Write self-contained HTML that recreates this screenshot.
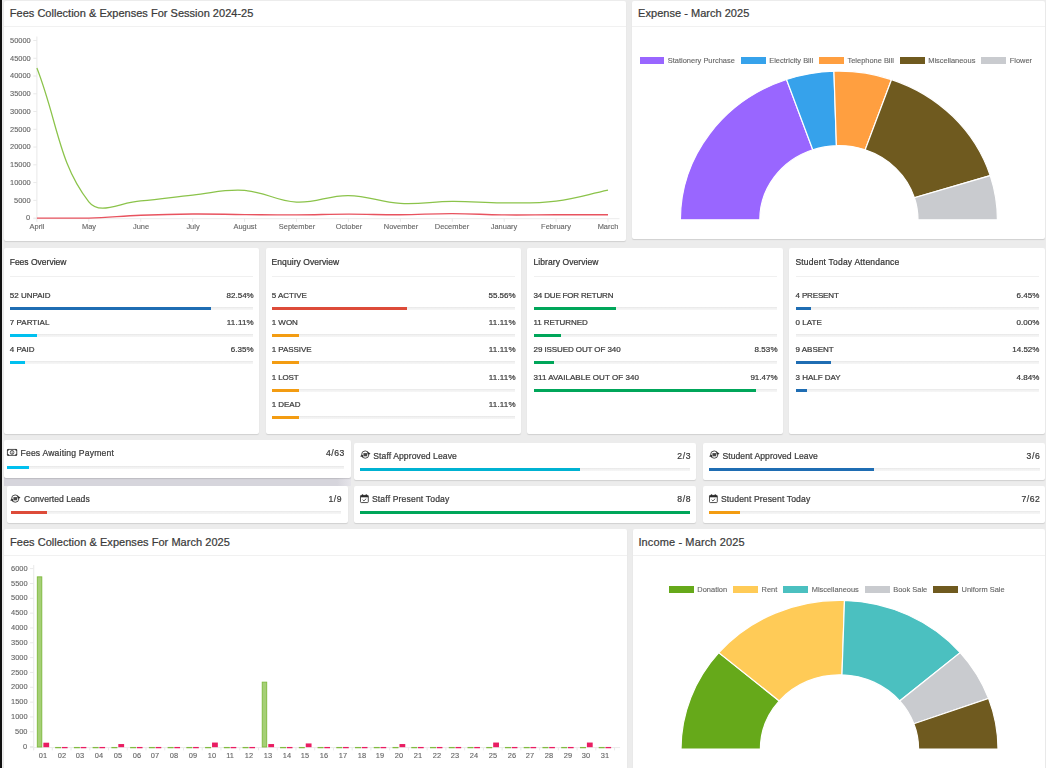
<!DOCTYPE html>
<html><head><meta charset="utf-8"><title>Dashboard</title>
<style>
html,body{margin:0;padding:0;}
body{width:1046px;height:768px;overflow:hidden;background:#ececec;font-family:"Liberation Sans",sans-serif;position:relative;}
.card{position:absolute;background:#fff;border-radius:2px;box-shadow:0 1px 1px rgba(0,0,0,0.12);}
.t{position:absolute;white-space:nowrap;-webkit-text-stroke:0.22px currentColor;}
.g{will-change:transform;-webkit-text-stroke:0.12px currentColor;}
.hl{position:absolute;height:1px;background:#f1f1f1;}
.trk{position:absolute;height:3px;background:linear-gradient(#e7e7e7 0,#f2f2f2 50%,#f6f6f6 100%);}
.bar{position:absolute;height:3px;}
svg{position:absolute;left:0;top:0;overflow:visible;}
.lg{-webkit-text-stroke:0.12px currentColor;will-change:transform;position:absolute;display:flex;justify-content:center;font-size:7.45px;line-height:9px;color:#666;white-space:nowrap;}
.lg span{display:inline-block;}
.lg .b{width:24.8px;height:7.2px;margin-right:3.5px;margin-top:1.2px;}
.lg .x{margin-right:6.13px;}
#wrap{position:absolute;left:-8px;top:-8px;width:1062px;height:784px;background:#ececec;filter:blur(0.4px);}
#in{position:absolute;left:8px;top:8px;width:1046px;height:768px;}
</style></head><body><div id="wrap"><div id="in">

<div style="position:absolute;left:0;top:0;width:2.3px;height:768px;background:#111;"></div>
<div class="card" style="left:3.6px;top:1.0px;width:622.5px;height:240.0px;"></div>
<div class="card" style="left:632.2px;top:1.0px;width:413.1px;height:238.2px;"></div>
<div class="hl" style="left:3.6px;top:25.8px;width:622.5px;"></div>
<div class="hl" style="left:632.2px;top:25.8px;width:413.1px;"></div>
<div class="t" style="top:7px;font-size:11.00px;line-height:12px;color:#3a3a3a;letter-spacing:0.018px;left:9.80px;">Fees Collection &amp; Expenses For Session 2024-25</div>
<div class="t" style="top:7px;font-size:11.00px;line-height:12px;color:#3a3a3a;letter-spacing:0.026px;left:638.10px;">Expense - March 2025</div>
<div class="card" style="left:3.6px;top:529.3px;width:623.3px;height:243.7px;"></div>
<div class="card" style="left:632.9px;top:529.3px;width:412.4px;height:243.7px;"></div>
<div class="hl" style="left:3.6px;top:554.5px;width:623.3px;"></div>
<div class="hl" style="left:632.9px;top:554.5px;width:412.4px;"></div>
<div class="t" style="top:536px;font-size:11.00px;line-height:12px;color:#3a3a3a;letter-spacing:0.039px;left:10.00px;">Fees Collection &amp; Expenses For March 2025</div>
<div class="t" style="top:536px;font-size:11.00px;line-height:12px;color:#3a3a3a;letter-spacing:0.124px;left:638.40px;">Income - March 2025</div>
<svg width="1046" height="768" viewBox="0 0 1046 768">
<path d="M36.90 36.5 V218.90" stroke="#e9e9e9" stroke-width="1" fill="none"/>
<path d="M33.40 218.70 H619.52" stroke="#ececec" stroke-width="1" fill="none"/>
<path d="M33.30 218.10 h3.6 M33.30 200.34 h3.6 M33.30 182.58 h3.6 M33.30 164.82 h3.6 M33.30 147.06 h3.6 M33.30 129.30 h3.6 M33.30 111.54 h3.6 M33.30 93.78 h3.6 M33.30 76.02 h3.6 M33.30 58.26 h3.6 M33.30 40.50 h3.6 M36.90 218.70 v3.2 M88.82 218.70 v3.2 M140.74 218.70 v3.2 M192.66 218.70 v3.2 M244.58 218.70 v3.2 M296.50 218.70 v3.2 M348.42 218.70 v3.2 M400.34 218.70 v3.2 M452.26 218.70 v3.2 M504.18 218.70 v3.2 M556.10 218.70 v3.2 M608.02 218.70 v3.2" stroke="#e9e9e9" stroke-width="1" fill="none"/>
<path d="M36.90 68.03 C57.67 121.52 58.32 162.75 88.82 201.76 C99.86 215.88 120.04 202.22 140.74 200.87 C161.57 199.52 171.87 197.11 192.66 195.01 C213.40 192.92 224.03 188.99 244.58 190.39 C265.57 191.83 275.56 201.08 296.50 202.12 C317.09 203.14 327.69 195.28 348.42 195.54 C369.22 195.82 379.46 202.29 400.34 203.47 C421.00 204.63 431.49 201.53 452.26 201.41 C473.02 201.28 483.41 202.93 504.18 202.86 C524.95 202.79 535.55 203.59 556.10 201.05 C577.09 198.46 587.25 194.44 608.02 190.04" stroke="#8bc34a" stroke-width="1.25" fill="none" stroke-linecap="butt"/>
<path d="M36.90 218.10 C57.67 218.10 68.07 218.10 88.82 218.10 C109.60 217.53 119.96 216.08 140.74 215.26 C161.50 214.44 171.89 214.16 192.66 214.02 C213.43 213.87 223.81 214.37 244.58 214.55 C265.35 214.73 275.73 214.97 296.50 214.90 C317.27 214.83 327.65 214.23 348.42 214.19 C369.19 214.16 379.57 214.83 400.34 214.73 C421.11 214.62 431.49 213.62 452.26 213.66 C473.03 213.70 483.41 214.69 504.18 214.90 C524.95 215.12 535.33 214.76 556.10 214.73 C576.87 214.69 587.25 214.73 608.02 214.73" stroke="#e8535f" stroke-width="1.35" fill="none"/>
</svg>
<div class="t g" style="top:213px;font-size:7.45px;line-height:9px;color:#666;right:1015.50px;text-align:right;">0</div>
<div class="t g" style="top:196px;font-size:7.45px;line-height:9px;color:#666;right:1015.50px;text-align:right;">5000</div>
<div class="t g" style="top:178px;font-size:7.45px;line-height:9px;color:#666;right:1015.50px;text-align:right;">10000</div>
<div class="t g" style="top:160px;font-size:7.45px;line-height:9px;color:#666;right:1015.50px;text-align:right;">15000</div>
<div class="t g" style="top:142px;font-size:7.45px;line-height:9px;color:#666;right:1015.50px;text-align:right;">20000</div>
<div class="t g" style="top:125px;font-size:7.45px;line-height:9px;color:#666;right:1015.50px;text-align:right;">25000</div>
<div class="t g" style="top:107px;font-size:7.45px;line-height:9px;color:#666;right:1015.50px;text-align:right;">30000</div>
<div class="t g" style="top:89px;font-size:7.45px;line-height:9px;color:#666;right:1015.50px;text-align:right;">35000</div>
<div class="t g" style="top:71px;font-size:7.45px;line-height:9px;color:#666;right:1015.50px;text-align:right;">40000</div>
<div class="t g" style="top:54px;font-size:7.45px;line-height:9px;color:#666;right:1015.50px;text-align:right;">45000</div>
<div class="t g" style="top:36px;font-size:7.45px;line-height:9px;color:#666;right:1015.50px;text-align:right;">50000</div>
<div class="t g" style="top:222px;font-size:7.45px;line-height:9px;color:#666;left:37.10px;width:200px;margin-left:-100px;text-align:center;">April</div>
<div class="t g" style="top:222px;font-size:7.45px;line-height:9px;color:#666;left:89.02px;width:200px;margin-left:-100px;text-align:center;">May</div>
<div class="t g" style="top:222px;font-size:7.45px;line-height:9px;color:#666;left:140.94px;width:200px;margin-left:-100px;text-align:center;">June</div>
<div class="t g" style="top:222px;font-size:7.45px;line-height:9px;color:#666;left:192.86px;width:200px;margin-left:-100px;text-align:center;">July</div>
<div class="t g" style="top:222px;font-size:7.45px;line-height:9px;color:#666;left:244.78px;width:200px;margin-left:-100px;text-align:center;">August</div>
<div class="t g" style="top:222px;font-size:7.45px;line-height:9px;color:#666;left:296.70px;width:200px;margin-left:-100px;text-align:center;">September</div>
<div class="t g" style="top:222px;font-size:7.45px;line-height:9px;color:#666;left:348.62px;width:200px;margin-left:-100px;text-align:center;">October</div>
<div class="t g" style="top:222px;font-size:7.45px;line-height:9px;color:#666;left:400.54px;width:200px;margin-left:-100px;text-align:center;">November</div>
<div class="t g" style="top:222px;font-size:7.45px;line-height:9px;color:#666;left:452.46px;width:200px;margin-left:-100px;text-align:center;">December</div>
<div class="t g" style="top:222px;font-size:7.45px;line-height:9px;color:#666;left:504.38px;width:200px;margin-left:-100px;text-align:center;">January</div>
<div class="t g" style="top:222px;font-size:7.45px;line-height:9px;color:#666;left:556.30px;width:200px;margin-left:-100px;text-align:center;">February</div>
<div class="t g" style="top:222px;font-size:7.45px;line-height:9px;color:#666;left:608.22px;width:200px;margin-left:-100px;text-align:center;">March</div>
<svg width="1046" height="768" viewBox="0 0 1046 768">
<path d="M680.40 219.80 A158.50 148.67 0 0 1 786.51 79.48 L812.76 149.77 A79.10 74.20 0 0 0 759.80 219.80 Z" fill="#9966ff" stroke="#fff" stroke-width="1.2" stroke-linejoin="miter"/>
<path d="M786.51 79.48 A158.50 148.67 0 0 1 833.92 71.20 L836.42 145.64 A79.10 74.20 0 0 0 812.76 149.77 Z" fill="#36a2eb" stroke="#fff" stroke-width="1.2" stroke-linejoin="miter"/>
<path d="M833.92 71.20 A158.50 148.67 0 0 1 891.55 79.57 L865.17 149.82 A79.10 74.20 0 0 0 836.42 145.64 Z" fill="#ff9f40" stroke="#fff" stroke-width="1.2" stroke-linejoin="miter"/>
<path d="M891.55 79.57 A158.50 148.67 0 0 1 990.23 175.59 L914.42 197.74 A79.10 74.20 0 0 0 865.17 149.82 Z" fill="#6f5a1f" stroke="#fff" stroke-width="1.2" stroke-linejoin="miter"/>
<path d="M990.23 175.59 A158.50 148.67 0 0 1 997.40 219.80 L918.00 219.80 A79.10 74.20 0 0 0 914.42 197.74 Z" fill="#c9cbcf" stroke="#fff" stroke-width="1.2" stroke-linejoin="miter"/>
</svg>
<div style="position:absolute;left:678.4px;top:219.8px;width:321.0px;height:3px;background:#fff;"></div>
<div class="lg" style="left:637.7px;top:56.30px;width:401.8px;"><span class="b" style="background:#9966ff"></span><span class="x">Stationery Purchase</span><span class="b" style="background:#36a2eb"></span><span class="x">Electricity Bill</span><span class="b" style="background:#ff9f40"></span><span class="x">Telephone Bill</span><span class="b" style="background:#6f5a1f"></span><span class="x">Miscellaneous</span><span class="b" style="background:#c9cbcf"></span><span class="x">Flower</span></div>
<svg width="1046" height="768" viewBox="0 0 1046 768">
<path d="M681.00 749.00 A158.50 148.67 0 0 1 718.80 652.64 L779.26 700.91 A79.10 74.20 0 0 0 760.40 749.00 Z" fill="#66a91a" stroke="#fff" stroke-width="1.2" stroke-linejoin="miter"/>
<path d="M718.80 652.64 A158.50 148.67 0 0 1 844.48 600.40 L841.98 674.84 A79.10 74.20 0 0 0 779.26 700.91 Z" fill="#ffcb57" stroke="#fff" stroke-width="1.2" stroke-linejoin="miter"/>
<path d="M844.48 600.40 A158.50 148.67 0 0 1 960.20 652.64 L899.74 700.91 A79.10 74.20 0 0 0 841.98 674.84 Z" fill="#4bc0c0" stroke="#fff" stroke-width="1.2" stroke-linejoin="miter"/>
<path d="M960.20 652.64 A158.50 148.67 0 0 1 988.54 698.39 L913.88 723.75 A79.10 74.20 0 0 0 899.74 700.91 Z" fill="#c9cbcf" stroke="#fff" stroke-width="1.2" stroke-linejoin="miter"/>
<path d="M988.54 698.39 A158.50 148.67 0 0 1 998.00 749.00 L918.60 749.00 A79.10 74.20 0 0 0 913.88 723.75 Z" fill="#6f5a1f" stroke="#fff" stroke-width="1.2" stroke-linejoin="miter"/>
</svg>
<div style="position:absolute;left:679.0px;top:749.0px;width:321.0px;height:3px;background:#fff;"></div>
<div class="lg" style="left:638.5px;top:584.60px;width:401.8px;"><span class="b" style="background:#66a91a"></span><span class="x">Donation</span><span class="b" style="background:#ffcb57"></span><span class="x">Rent</span><span class="b" style="background:#4bc0c0"></span><span class="x">Miscellaneous</span><span class="b" style="background:#c9cbcf"></span><span class="x">Book Sale</span><span class="b" style="background:#6f5a1f"></span><span class="x">Uniform Sale</span></div>
<svg width="1046" height="768" viewBox="0 0 1046 768">
<path d="M33.75 565 V750.00" stroke="#e9e9e9" stroke-width="1" fill="none"/>
<path d="M30.05 747.60 H620.08" stroke="#ececec" stroke-width="1" fill="none"/>
<path d="M29.95 746.60 h3.6 M29.95 731.77 h3.6 M29.95 716.94 h3.6 M29.95 702.11 h3.6 M29.95 687.28 h3.6 M29.95 672.45 h3.6 M29.95 657.62 h3.6 M29.95 642.79 h3.6 M29.95 627.96 h3.6 M29.95 613.13 h3.6 M29.95 598.30 h3.6 M29.95 583.47 h3.6 M29.95 568.64 h3.6 M33.55 747.60 v2.8 M52.29 747.60 v2.8 M71.04 747.60 v2.8 M89.78 747.60 v2.8 M108.52 747.60 v2.8 M127.26 747.60 v2.8 M146.01 747.60 v2.8 M164.75 747.60 v2.8 M183.49 747.60 v2.8 M202.24 747.60 v2.8 M220.98 747.60 v2.8 M239.72 747.60 v2.8 M258.47 747.60 v2.8 M277.21 747.60 v2.8 M295.95 747.60 v2.8 M314.69 747.60 v2.8 M333.44 747.60 v2.8 M352.18 747.60 v2.8 M370.92 747.60 v2.8 M389.67 747.60 v2.8 M408.41 747.60 v2.8 M427.15 747.60 v2.8 M445.90 747.60 v2.8 M464.64 747.60 v2.8 M483.38 747.60 v2.8 M502.12 747.60 v2.8 M520.87 747.60 v2.8 M539.61 747.60 v2.8 M558.35 747.60 v2.8 M577.10 747.60 v2.8 M595.84 747.60 v2.8 M614.58 747.60 v2.8" stroke="#e9e9e9" stroke-width="1" fill="none"/>
<rect x="37.30" y="576.86" width="4.50" height="170.14" fill="#a5cf75" stroke="#7db93c" stroke-width="0.9"/>
<rect x="43.35" y="742.70" width="5.80" height="4.50" fill="#e91e63"/>
<rect x="55.14" y="746.95" width="6.00" height="1.3" fill="#82bb42"/>
<rect x="61.89" y="746.95" width="5.70" height="1.3" fill="#e91e63"/>
<rect x="73.89" y="746.95" width="6.00" height="1.3" fill="#82bb42"/>
<rect x="80.64" y="746.95" width="5.70" height="1.3" fill="#e91e63"/>
<rect x="92.63" y="746.95" width="6.00" height="1.3" fill="#82bb42"/>
<rect x="99.38" y="746.95" width="5.70" height="1.3" fill="#e91e63"/>
<rect x="111.37" y="746.95" width="6.00" height="1.3" fill="#82bb42"/>
<rect x="118.32" y="744.03" width="5.80" height="3.17" fill="#e91e63"/>
<rect x="130.11" y="746.95" width="6.00" height="1.3" fill="#82bb42"/>
<rect x="136.86" y="746.95" width="5.70" height="1.3" fill="#e91e63"/>
<rect x="148.86" y="746.95" width="6.00" height="1.3" fill="#82bb42"/>
<rect x="155.61" y="746.95" width="5.70" height="1.3" fill="#e91e63"/>
<rect x="167.60" y="746.95" width="6.00" height="1.3" fill="#82bb42"/>
<rect x="174.35" y="746.95" width="5.70" height="1.3" fill="#e91e63"/>
<rect x="186.34" y="746.95" width="6.00" height="1.3" fill="#82bb42"/>
<rect x="193.09" y="746.95" width="5.70" height="1.3" fill="#e91e63"/>
<rect x="205.09" y="746.95" width="6.00" height="1.3" fill="#82bb42"/>
<rect x="212.04" y="742.55" width="5.80" height="4.65" fill="#e91e63"/>
<rect x="223.83" y="746.95" width="6.00" height="1.3" fill="#82bb42"/>
<rect x="230.58" y="746.95" width="5.70" height="1.3" fill="#e91e63"/>
<rect x="242.57" y="746.95" width="6.00" height="1.3" fill="#82bb42"/>
<rect x="249.32" y="746.95" width="5.70" height="1.3" fill="#e91e63"/>
<rect x="262.22" y="682.15" width="4.50" height="64.85" fill="#a5cf75" stroke="#7db93c" stroke-width="0.9"/>
<rect x="268.27" y="744.03" width="5.80" height="3.17" fill="#e91e63"/>
<rect x="280.06" y="746.95" width="6.00" height="1.3" fill="#82bb42"/>
<rect x="286.81" y="746.95" width="5.70" height="1.3" fill="#e91e63"/>
<rect x="298.80" y="746.95" width="6.00" height="1.3" fill="#82bb42"/>
<rect x="305.75" y="743.44" width="5.80" height="3.76" fill="#e91e63"/>
<rect x="317.55" y="746.95" width="6.00" height="1.3" fill="#82bb42"/>
<rect x="324.30" y="746.95" width="5.70" height="1.3" fill="#e91e63"/>
<rect x="336.29" y="746.95" width="6.00" height="1.3" fill="#82bb42"/>
<rect x="343.04" y="746.95" width="5.70" height="1.3" fill="#e91e63"/>
<rect x="355.03" y="746.95" width="6.00" height="1.3" fill="#82bb42"/>
<rect x="361.78" y="746.95" width="5.70" height="1.3" fill="#e91e63"/>
<rect x="373.77" y="746.95" width="6.00" height="1.3" fill="#82bb42"/>
<rect x="380.52" y="746.95" width="5.70" height="1.3" fill="#e91e63"/>
<rect x="392.52" y="746.95" width="6.00" height="1.3" fill="#82bb42"/>
<rect x="399.47" y="744.03" width="5.80" height="3.17" fill="#e91e63"/>
<rect x="411.26" y="746.95" width="6.00" height="1.3" fill="#82bb42"/>
<rect x="418.01" y="746.95" width="5.70" height="1.3" fill="#e91e63"/>
<rect x="430.00" y="746.95" width="6.00" height="1.3" fill="#82bb42"/>
<rect x="436.75" y="746.95" width="5.70" height="1.3" fill="#e91e63"/>
<rect x="448.75" y="746.95" width="6.00" height="1.3" fill="#82bb42"/>
<rect x="455.50" y="746.95" width="5.70" height="1.3" fill="#e91e63"/>
<rect x="467.49" y="746.95" width="6.00" height="1.3" fill="#82bb42"/>
<rect x="474.24" y="746.95" width="5.70" height="1.3" fill="#e91e63"/>
<rect x="486.23" y="746.95" width="6.00" height="1.3" fill="#82bb42"/>
<rect x="493.18" y="742.55" width="5.80" height="4.65" fill="#e91e63"/>
<rect x="504.98" y="746.95" width="6.00" height="1.3" fill="#82bb42"/>
<rect x="511.73" y="746.95" width="5.70" height="1.3" fill="#e91e63"/>
<rect x="523.72" y="746.95" width="6.00" height="1.3" fill="#82bb42"/>
<rect x="530.47" y="746.95" width="5.70" height="1.3" fill="#e91e63"/>
<rect x="542.46" y="746.95" width="6.00" height="1.3" fill="#82bb42"/>
<rect x="549.21" y="746.95" width="5.70" height="1.3" fill="#e91e63"/>
<rect x="561.20" y="746.95" width="6.00" height="1.3" fill="#82bb42"/>
<rect x="567.95" y="746.95" width="5.70" height="1.3" fill="#e91e63"/>
<rect x="579.95" y="746.95" width="6.00" height="1.3" fill="#82bb42"/>
<rect x="586.90" y="742.55" width="5.80" height="4.65" fill="#e91e63"/>
<rect x="598.69" y="746.95" width="6.00" height="1.3" fill="#82bb42"/>
<rect x="605.44" y="746.95" width="5.70" height="1.3" fill="#e91e63"/>
</svg>
<div class="t g" style="top:742px;font-size:7.45px;line-height:9px;color:#666;right:1018.60px;text-align:right;">0</div>
<div class="t g" style="top:727px;font-size:7.45px;line-height:9px;color:#666;right:1018.60px;text-align:right;">500</div>
<div class="t g" style="top:712px;font-size:7.45px;line-height:9px;color:#666;right:1018.60px;text-align:right;">1000</div>
<div class="t g" style="top:697px;font-size:7.45px;line-height:9px;color:#666;right:1018.60px;text-align:right;">1500</div>
<div class="t g" style="top:682px;font-size:7.45px;line-height:9px;color:#666;right:1018.60px;text-align:right;">2000</div>
<div class="t g" style="top:668px;font-size:7.45px;line-height:9px;color:#666;right:1018.60px;text-align:right;">2500</div>
<div class="t g" style="top:653px;font-size:7.45px;line-height:9px;color:#666;right:1018.60px;text-align:right;">3000</div>
<div class="t g" style="top:638px;font-size:7.45px;line-height:9px;color:#666;right:1018.60px;text-align:right;">3500</div>
<div class="t g" style="top:623px;font-size:7.45px;line-height:9px;color:#666;right:1018.60px;text-align:right;">4000</div>
<div class="t g" style="top:608px;font-size:7.45px;line-height:9px;color:#666;right:1018.60px;text-align:right;">4500</div>
<div class="t g" style="top:593px;font-size:7.45px;line-height:9px;color:#666;right:1018.60px;text-align:right;">5000</div>
<div class="t g" style="top:579px;font-size:7.45px;line-height:9px;color:#666;right:1018.60px;text-align:right;">5500</div>
<div class="t g" style="top:564px;font-size:7.45px;line-height:9px;color:#666;right:1018.60px;text-align:right;">6000</div>
<div class="t g" style="top:751px;font-size:7.45px;line-height:9px;color:#666;left:42.92px;width:200px;margin-left:-100px;text-align:center;">01</div>
<div class="t g" style="top:751px;font-size:7.45px;line-height:9px;color:#666;left:61.66px;width:200px;margin-left:-100px;text-align:center;">02</div>
<div class="t g" style="top:751px;font-size:7.45px;line-height:9px;color:#666;left:80.41px;width:200px;margin-left:-100px;text-align:center;">03</div>
<div class="t g" style="top:751px;font-size:7.45px;line-height:9px;color:#666;left:99.15px;width:200px;margin-left:-100px;text-align:center;">04</div>
<div class="t g" style="top:751px;font-size:7.45px;line-height:9px;color:#666;left:117.89px;width:200px;margin-left:-100px;text-align:center;">05</div>
<div class="t g" style="top:751px;font-size:7.45px;line-height:9px;color:#666;left:136.64px;width:200px;margin-left:-100px;text-align:center;">06</div>
<div class="t g" style="top:751px;font-size:7.45px;line-height:9px;color:#666;left:155.38px;width:200px;margin-left:-100px;text-align:center;">07</div>
<div class="t g" style="top:751px;font-size:7.45px;line-height:9px;color:#666;left:174.12px;width:200px;margin-left:-100px;text-align:center;">08</div>
<div class="t g" style="top:751px;font-size:7.45px;line-height:9px;color:#666;left:192.87px;width:200px;margin-left:-100px;text-align:center;">09</div>
<div class="t g" style="top:751px;font-size:7.45px;line-height:9px;color:#666;left:211.61px;width:200px;margin-left:-100px;text-align:center;">10</div>
<div class="t g" style="top:751px;font-size:7.45px;line-height:9px;color:#666;left:230.35px;width:200px;margin-left:-100px;text-align:center;">11</div>
<div class="t g" style="top:751px;font-size:7.45px;line-height:9px;color:#666;left:249.09px;width:200px;margin-left:-100px;text-align:center;">12</div>
<div class="t g" style="top:751px;font-size:7.45px;line-height:9px;color:#666;left:267.84px;width:200px;margin-left:-100px;text-align:center;">13</div>
<div class="t g" style="top:751px;font-size:7.45px;line-height:9px;color:#666;left:286.58px;width:200px;margin-left:-100px;text-align:center;">14</div>
<div class="t g" style="top:751px;font-size:7.45px;line-height:9px;color:#666;left:305.32px;width:200px;margin-left:-100px;text-align:center;">15</div>
<div class="t g" style="top:751px;font-size:7.45px;line-height:9px;color:#666;left:324.07px;width:200px;margin-left:-100px;text-align:center;">16</div>
<div class="t g" style="top:751px;font-size:7.45px;line-height:9px;color:#666;left:342.81px;width:200px;margin-left:-100px;text-align:center;">17</div>
<div class="t g" style="top:751px;font-size:7.45px;line-height:9px;color:#666;left:361.55px;width:200px;margin-left:-100px;text-align:center;">18</div>
<div class="t g" style="top:751px;font-size:7.45px;line-height:9px;color:#666;left:380.30px;width:200px;margin-left:-100px;text-align:center;">19</div>
<div class="t g" style="top:751px;font-size:7.45px;line-height:9px;color:#666;left:399.04px;width:200px;margin-left:-100px;text-align:center;">20</div>
<div class="t g" style="top:751px;font-size:7.45px;line-height:9px;color:#666;left:417.78px;width:200px;margin-left:-100px;text-align:center;">21</div>
<div class="t g" style="top:751px;font-size:7.45px;line-height:9px;color:#666;left:436.52px;width:200px;margin-left:-100px;text-align:center;">22</div>
<div class="t g" style="top:751px;font-size:7.45px;line-height:9px;color:#666;left:455.27px;width:200px;margin-left:-100px;text-align:center;">23</div>
<div class="t g" style="top:751px;font-size:7.45px;line-height:9px;color:#666;left:474.01px;width:200px;margin-left:-100px;text-align:center;">24</div>
<div class="t g" style="top:751px;font-size:7.45px;line-height:9px;color:#666;left:492.75px;width:200px;margin-left:-100px;text-align:center;">25</div>
<div class="t g" style="top:751px;font-size:7.45px;line-height:9px;color:#666;left:511.50px;width:200px;margin-left:-100px;text-align:center;">26</div>
<div class="t g" style="top:751px;font-size:7.45px;line-height:9px;color:#666;left:530.24px;width:200px;margin-left:-100px;text-align:center;">27</div>
<div class="t g" style="top:751px;font-size:7.45px;line-height:9px;color:#666;left:548.98px;width:200px;margin-left:-100px;text-align:center;">28</div>
<div class="t g" style="top:751px;font-size:7.45px;line-height:9px;color:#666;left:567.73px;width:200px;margin-left:-100px;text-align:center;">29</div>
<div class="t g" style="top:751px;font-size:7.45px;line-height:9px;color:#666;left:586.47px;width:200px;margin-left:-100px;text-align:center;">30</div>
<div class="t g" style="top:751px;font-size:7.45px;line-height:9px;color:#666;left:605.21px;width:200px;margin-left:-100px;text-align:center;">31</div>
<div class="card" style="left:3.6px;top:247.6px;width:255.8px;height:186.4px;"></div>
<div class="t" style="top:257px;font-size:8.50px;line-height:10px;color:#333;letter-spacing:0.009px;left:9.70px;">Fees Overview</div>
<div class="hl" style="left:9.9px;top:276px;width:243.5px;background:#f0f0f0"></div>
<div class="t" style="top:291px;font-size:8.00px;line-height:9px;color:#3a3a3a;letter-spacing:0.004px;left:9.80px;">52 UNPAID</div>
<div class="t" style="top:291px;font-size:8.00px;line-height:9px;color:#3a3a3a;letter-spacing:0.010px;right:792.29px;text-align:right;">82.54%</div>
<div class="trk" style="left:9.9px;top:306.85px;width:243.5px;"></div>
<div class="bar" style="left:9.9px;top:306.85px;width:201.0px;background:#1f6db3"></div>
<div class="t" style="top:318px;font-size:8.00px;line-height:9px;color:#3a3a3a;letter-spacing:0.035px;left:9.80px;">7 PARTIAL</div>
<div class="t" style="top:318px;font-size:8.00px;line-height:9px;color:#3a3a3a;letter-spacing:0.191px;right:792.11px;text-align:right;">11.11%</div>
<div class="trk" style="left:9.9px;top:334.07px;width:243.5px;"></div>
<div class="bar" style="left:9.9px;top:334.07px;width:27.1px;background:#00c0ef"></div>
<div class="t" style="top:345px;font-size:8.00px;line-height:9px;color:#3a3a3a;letter-spacing:0.008px;left:9.80px;">4 PAID</div>
<div class="t" style="top:345px;font-size:8.00px;line-height:9px;color:#3a3a3a;letter-spacing:0.062px;right:792.24px;text-align:right;">6.35%</div>
<div class="trk" style="left:9.9px;top:361.29px;width:243.5px;"></div>
<div class="bar" style="left:9.9px;top:361.29px;width:15.5px;background:#00c0ef"></div>
<div class="card" style="left:265.5px;top:247.6px;width:255.8px;height:186.4px;"></div>
<div class="t" style="top:257px;font-size:8.50px;line-height:10px;color:#333;letter-spacing:0.062px;left:271.60px;">Enquiry Overview</div>
<div class="hl" style="left:271.8px;top:276px;width:243.5px;background:#f0f0f0"></div>
<div class="t" style="top:291px;font-size:8.00px;line-height:9px;color:#3a3a3a;letter-spacing:0.009px;left:271.70px;">5 ACTIVE</div>
<div class="t" style="top:291px;font-size:8.00px;line-height:9px;color:#3a3a3a;letter-spacing:-0.007px;right:530.41px;text-align:right;">55.56%</div>
<div class="trk" style="left:271.8px;top:306.85px;width:243.5px;"></div>
<div class="bar" style="left:271.8px;top:306.85px;width:135.3px;background:#dd4b39"></div>
<div class="t" style="top:318px;font-size:8.00px;line-height:9px;color:#3a3a3a;letter-spacing:-0.007px;left:271.70px;">1 WON</div>
<div class="t" style="top:318px;font-size:8.00px;line-height:9px;color:#3a3a3a;letter-spacing:0.191px;right:530.21px;text-align:right;">11.11%</div>
<div class="trk" style="left:271.8px;top:334.07px;width:243.5px;"></div>
<div class="bar" style="left:271.8px;top:334.07px;width:27.1px;background:#f39c12"></div>
<div class="t" style="top:345px;font-size:8.00px;line-height:9px;color:#3a3a3a;letter-spacing:-0.048px;left:271.70px;">1 PASSIVE</div>
<div class="t" style="top:345px;font-size:8.00px;line-height:9px;color:#3a3a3a;letter-spacing:0.191px;right:530.21px;text-align:right;">11.11%</div>
<div class="trk" style="left:271.8px;top:361.29px;width:243.5px;"></div>
<div class="bar" style="left:271.8px;top:361.29px;width:27.1px;background:#f39c12"></div>
<div class="t" style="top:373px;font-size:8.00px;line-height:9px;color:#3a3a3a;letter-spacing:-0.113px;left:271.70px;">1 LOST</div>
<div class="t" style="top:373px;font-size:8.00px;line-height:9px;color:#3a3a3a;letter-spacing:0.191px;right:530.21px;text-align:right;">11.11%</div>
<div class="trk" style="left:271.8px;top:388.51px;width:243.5px;"></div>
<div class="bar" style="left:271.8px;top:388.51px;width:27.1px;background:#f39c12"></div>
<div class="t" style="top:400px;font-size:8.00px;line-height:9px;color:#3a3a3a;letter-spacing:-0.034px;left:271.70px;">1 DEAD</div>
<div class="t" style="top:400px;font-size:8.00px;line-height:9px;color:#3a3a3a;letter-spacing:0.191px;right:530.21px;text-align:right;">11.11%</div>
<div class="trk" style="left:271.8px;top:415.73px;width:243.5px;"></div>
<div class="bar" style="left:271.8px;top:415.73px;width:27.1px;background:#f39c12"></div>
<div class="card" style="left:527.4px;top:247.6px;width:255.8px;height:186.4px;"></div>
<div class="t" style="top:257px;font-size:8.50px;line-height:10px;color:#333;letter-spacing:0.076px;left:533.50px;">Library Overview</div>
<div class="hl" style="left:533.7px;top:276px;width:243.5px;background:#f0f0f0"></div>
<div class="t" style="top:291px;font-size:8.00px;line-height:9px;color:#3a3a3a;letter-spacing:-0.176px;left:533.60px;">34 DUE FOR RETURN</div>
<div class="trk" style="left:533.7px;top:306.85px;width:243.5px;"></div>
<div class="bar" style="left:533.7px;top:306.85px;width:82.4px;background:#00a65a"></div>
<div class="t" style="top:318px;font-size:8.00px;line-height:9px;color:#3a3a3a;letter-spacing:-0.089px;left:533.60px;">11 RETURNED</div>
<div class="trk" style="left:533.7px;top:334.07px;width:243.5px;"></div>
<div class="bar" style="left:533.7px;top:334.07px;width:27.0px;background:#00a65a"></div>
<div class="t" style="top:345px;font-size:8.00px;line-height:9px;color:#3a3a3a;letter-spacing:-0.094px;left:533.60px;">29 ISSUED OUT OF 340</div>
<div class="t" style="top:345px;font-size:8.00px;line-height:9px;color:#3a3a3a;letter-spacing:0.062px;right:268.44px;text-align:right;">8.53%</div>
<div class="trk" style="left:533.7px;top:361.29px;width:243.5px;"></div>
<div class="bar" style="left:533.7px;top:361.29px;width:20.8px;background:#00a65a"></div>
<div class="t" style="top:373px;font-size:8.00px;line-height:9px;color:#3a3a3a;letter-spacing:0.039px;left:533.60px;">311 AVAILABLE OUT OF 340</div>
<div class="t" style="top:373px;font-size:8.00px;line-height:9px;color:#3a3a3a;letter-spacing:-0.007px;right:268.51px;text-align:right;">91.47%</div>
<div class="trk" style="left:533.7px;top:388.51px;width:243.5px;"></div>
<div class="bar" style="left:533.7px;top:388.51px;width:222.7px;background:#00a65a"></div>
<div class="card" style="left:789.3px;top:247.6px;width:255.8px;height:186.4px;"></div>
<div class="t" style="top:257px;font-size:8.50px;line-height:10px;color:#333;letter-spacing:0.209px;left:795.40px;">Student Today Attendance</div>
<div class="hl" style="left:795.6px;top:276px;width:243.5px;background:#f0f0f0"></div>
<div class="t" style="top:291px;font-size:8.00px;line-height:9px;color:#3a3a3a;letter-spacing:-0.141px;left:795.50px;">4 PRESENT</div>
<div class="t" style="top:291px;font-size:8.00px;line-height:9px;color:#3a3a3a;letter-spacing:0.062px;right:6.54px;text-align:right;">6.45%</div>
<div class="trk" style="left:795.6px;top:306.85px;width:243.5px;"></div>
<div class="bar" style="left:795.6px;top:306.85px;width:15.7px;background:#1f6db3"></div>
<div class="t" style="top:318px;font-size:8.00px;line-height:9px;color:#3a3a3a;letter-spacing:0.051px;left:795.50px;">0 LATE</div>
<div class="t" style="top:318px;font-size:8.00px;line-height:9px;color:#3a3a3a;letter-spacing:0.062px;right:6.54px;text-align:right;">0.00%</div>
<div class="trk" style="left:795.6px;top:334.07px;width:243.5px;"></div>
<div class="t" style="top:345px;font-size:8.00px;line-height:9px;color:#3a3a3a;letter-spacing:-0.006px;left:795.50px;">9 ABSENT</div>
<div class="t" style="top:345px;font-size:8.00px;line-height:9px;color:#3a3a3a;letter-spacing:-0.007px;right:6.61px;text-align:right;">14.52%</div>
<div class="trk" style="left:795.6px;top:361.29px;width:243.5px;"></div>
<div class="bar" style="left:795.6px;top:361.29px;width:35.4px;background:#1f6db3"></div>
<div class="t" style="top:373px;font-size:8.00px;line-height:9px;color:#3a3a3a;letter-spacing:-0.000px;left:795.50px;">3 HALF DAY</div>
<div class="t" style="top:373px;font-size:8.00px;line-height:9px;color:#3a3a3a;letter-spacing:0.062px;right:6.54px;text-align:right;">4.84%</div>
<div class="trk" style="left:795.6px;top:388.51px;width:243.5px;"></div>
<div class="bar" style="left:795.6px;top:388.51px;width:11.8px;background:#1f6db3"></div>
<div style="position:absolute;left:3.6px;top:477px;width:347px;height:9.4px;background:linear-gradient(90deg,#d6d5dc 0,#d6d5dc 96%,#e6e5ea 100%);"></div>
<div class="card" style="left:3.6px;top:439.8px;width:347.0px;height:38.3px;"></div>
<svg style="left:7.20px;top:449.05px" width="10.2" height="6.8" viewBox="0 0 30 20"><rect x="1.2" y="1.2" width="27.6" height="17.6" rx="1.6" fill="#fff" stroke="#2a2a2a" stroke-width="2.4"/><path d="M1 1h5.2a5.2 5.2 0 0 1-5.2 5.2zM29 1h-5.2a5.2 5.2 0 0 0 5.2 5.2zM1 19h5.2a5.2 5.2 0 0 0-5.2-5.2zM29 19h-5.2a5.2 5.2 0 0 1 5.2-5.2z" fill="#2a2a2a"/><ellipse cx="15" cy="10" rx="5.3" ry="6" fill="#fff" stroke="#2a2a2a" stroke-width="2.1"/><path d="M13.6 7.6 L15.4 6.6 V13.4 M13.4 13.4 H17" stroke="#2a2a2a" stroke-width="1.5" fill="none"/></svg>
<div class="t" style="top:448px;font-size:8.60px;line-height:10px;color:#3a3a3a;letter-spacing:0.188px;left:20.50px;">Fees Awaiting Payment</div>
<div class="t" style="top:448px;font-size:8.60px;line-height:10px;color:#3a3a3a;letter-spacing:0.516px;right:701.18px;text-align:right;">4/63</div>
<div class="trk" style="left:7.2px;top:465.50px;width:336.8px;"></div>
<div class="bar" style="left:7.2px;top:465.50px;width:21.4px;background:#00c0ef"></div>
<div class="card" style="left:7.0px;top:485.9px;width:340.5px;height:37.1px;"></div>
<svg style="left:10.30px;top:493.50px" width="10.6" height="9.2" viewBox="0 0 106 92"><circle cx="52.5" cy="46" r="36.5" fill="none" stroke="#333" stroke-width="8.5"/><rect x="34" y="31" width="38" height="32" fill="#484848"/><path d="M70 20 L106 32 L80 50Z" fill="#2a2a2a"/><path d="M35 72 L0 62 L25 44Z" fill="#2a2a2a"/></svg>
<div class="t" style="top:494px;font-size:8.60px;line-height:10px;color:#3a3a3a;letter-spacing:0.016px;left:24.00px;">Converted Leads</div>
<div class="t" style="top:494px;font-size:8.60px;line-height:10px;color:#3a3a3a;letter-spacing:0.449px;right:704.15px;text-align:right;">1/9</div>
<div class="trk" style="left:10.7px;top:511.00px;width:330.4px;"></div>
<div class="bar" style="left:10.7px;top:511.00px;width:36.7px;background:#dd4b39"></div>
<div class="card" style="left:353.7px;top:442.8px;width:342.5px;height:37.1px;"></div>
<svg style="left:359.70px;top:449.90px" width="10.6" height="9.2" viewBox="0 0 106 92"><circle cx="52.5" cy="46" r="36.5" fill="none" stroke="#333" stroke-width="8.5"/><rect x="34" y="31" width="38" height="32" fill="#484848"/><path d="M70 20 L106 32 L80 50Z" fill="#2a2a2a"/><path d="M35 72 L0 62 L25 44Z" fill="#2a2a2a"/></svg>
<div class="t" style="top:451px;font-size:8.60px;line-height:10px;color:#3a3a3a;letter-spacing:0.078px;left:373.30px;">Staff Approved Leave</div>
<div class="t" style="top:451px;font-size:8.60px;line-height:10px;color:#3a3a3a;letter-spacing:0.616px;right:354.88px;text-align:right;">2/3</div>
<div class="trk" style="left:360.0px;top:467.70px;width:330.2px;"></div>
<div class="bar" style="left:360.0px;top:467.70px;width:220.1px;background:#00b2d2"></div>
<div class="card" style="left:353.7px;top:486.2px;width:342.5px;height:37.0px;"></div>
<svg style="left:359.60px;top:493.80px" width="8.8" height="9" viewBox="0 0 26 27"><rect x="1.3" y="4.3" width="23.4" height="21.4" rx="2.5" fill="#fff" stroke="#2a2a2a" stroke-width="2.5"/><rect x="1.3" y="4.3" width="23.4" height="5.6" fill="#2a2a2a"/><rect x="5.6" y="0.6" width="3.8" height="6" rx="1.5" fill="#2a2a2a"/><rect x="16.6" y="0.6" width="3.8" height="6" rx="1.5" fill="#2a2a2a"/><path d="M7.8 17 l3.7 3.8 l7 -6.8" fill="none" stroke="#2a2a2a" stroke-width="2.3"/></svg>
<div class="t" style="top:494px;font-size:8.60px;line-height:10px;color:#3a3a3a;letter-spacing:0.153px;left:371.90px;">Staff Present Today</div>
<div class="t" style="top:494px;font-size:8.60px;line-height:10px;color:#3a3a3a;letter-spacing:0.682px;right:354.82px;text-align:right;">8/8</div>
<div class="trk" style="left:360.0px;top:511.00px;width:330.2px;"></div>
<div class="bar" style="left:360.0px;top:511.00px;width:330.2px;background:#00a65a"></div>
<div class="card" style="left:702.9px;top:442.8px;width:342.4px;height:37.1px;"></div>
<svg style="left:708.80px;top:450.00px" width="10.6" height="9.2" viewBox="0 0 106 92"><circle cx="52.5" cy="46" r="36.5" fill="none" stroke="#333" stroke-width="8.5"/><rect x="34" y="31" width="38" height="32" fill="#484848"/><path d="M70 20 L106 32 L80 50Z" fill="#2a2a2a"/><path d="M35 72 L0 62 L25 44Z" fill="#2a2a2a"/></svg>
<div class="t" style="top:451px;font-size:8.60px;line-height:10px;color:#3a3a3a;letter-spacing:0.062px;left:722.40px;">Student Approved Leave</div>
<div class="t" style="top:451px;font-size:8.60px;line-height:10px;color:#3a3a3a;letter-spacing:0.682px;right:5.52px;text-align:right;">3/6</div>
<div class="trk" style="left:709.0px;top:467.70px;width:330.5px;"></div>
<div class="bar" style="left:709.0px;top:467.70px;width:164.8px;background:#1f6db3"></div>
<div class="card" style="left:702.9px;top:486.2px;width:342.4px;height:37.0px;"></div>
<svg style="left:708.90px;top:494.20px" width="8.8" height="9" viewBox="0 0 26 27"><rect x="1.3" y="4.3" width="23.4" height="21.4" rx="2.5" fill="#fff" stroke="#2a2a2a" stroke-width="2.5"/><rect x="1.3" y="4.3" width="23.4" height="5.6" fill="#2a2a2a"/><rect x="5.6" y="0.6" width="3.8" height="6" rx="1.5" fill="#2a2a2a"/><rect x="16.6" y="0.6" width="3.8" height="6" rx="1.5" fill="#2a2a2a"/><path d="M7.8 17 l3.7 3.8 l7 -6.8" fill="none" stroke="#2a2a2a" stroke-width="2.3"/></svg>
<div class="t" style="top:494px;font-size:8.60px;line-height:10px;color:#3a3a3a;letter-spacing:0.119px;left:721.00px;">Student Present Today</div>
<div class="t" style="top:494px;font-size:8.60px;line-height:10px;color:#3a3a3a;letter-spacing:0.491px;right:5.71px;text-align:right;">7/62</div>
<div class="trk" style="left:709.0px;top:511.00px;width:330.5px;"></div>
<div class="bar" style="left:709.0px;top:511.00px;width:31.3px;background:#f39c12"></div>
</div></div></body></html>
